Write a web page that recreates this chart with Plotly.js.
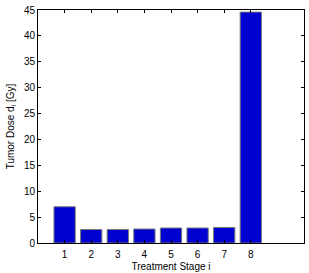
<!DOCTYPE html>
<html><head><meta charset="utf-8">
<script src="https://cdn.plot.ly/plotly-3.0.1.min.js"></script>
<style>html,body{margin:0;padding:0;background:#fff}#c{width:309px;height:273px}</style>
</head><body><div id="c"></div>
<script>
const stages = [1, 2, 3, 4, 5, 6, 7, 8];
const doses = [7.0, 2.6, 2.6, 2.7, 2.9, 2.9, 3.0, 44.6];
const xTicks = [1, 2, 3, 4, 5, 6, 7, 8];
const yTicks = [0, 5, 10, 15, 20, 25, 30, 35, 40, 45];

const font = {family: 'Liberation Sans, Arial, sans-serif', size: 10, color: '#000'};
Plotly.newPlot('c', [{
  type: 'bar', x: stages, y: doses, width: 0.8,
  marker: {color: 'rgb(0,0,208)', line: {color: '#7a7a7a', width: 1}},
  hoverinfo: 'skip'
}], {
  width: 309, height: 273,
  margin: {l: 38, r: 5, t: 10, b: 30},
  paper_bgcolor: '#fff', plot_bgcolor: '#fff',
  showlegend: false, font: font,
  xaxis: {range: [0, 10], tickvals: xTicks, ticks: 'inside', ticklen: 3, tickcolor: '#000',
    showline: true, linecolor: '#000', linewidth: 1, mirror: 'ticks', showgrid: false, zeroline: false,
    ticklabelstandoff: 2,
    title: {text: 'Treatment Stage i', font: font, standoff: 3}, tickfont: font},
  yaxis: {range: [0, 45], tickvals: yTicks, ticks: 'inside', ticklen: 3, tickcolor: '#000',
    showline: true, linecolor: '#000', linewidth: 1, mirror: 'ticks', showgrid: false, zeroline: false,
    title: {text: 'Tumor Dose d<sub>i</sub> [Gy]', font: font, standoff: 7}, tickfont: font}
}, {staticPlot: true, displayModeBar: false});
</script></body></html>
